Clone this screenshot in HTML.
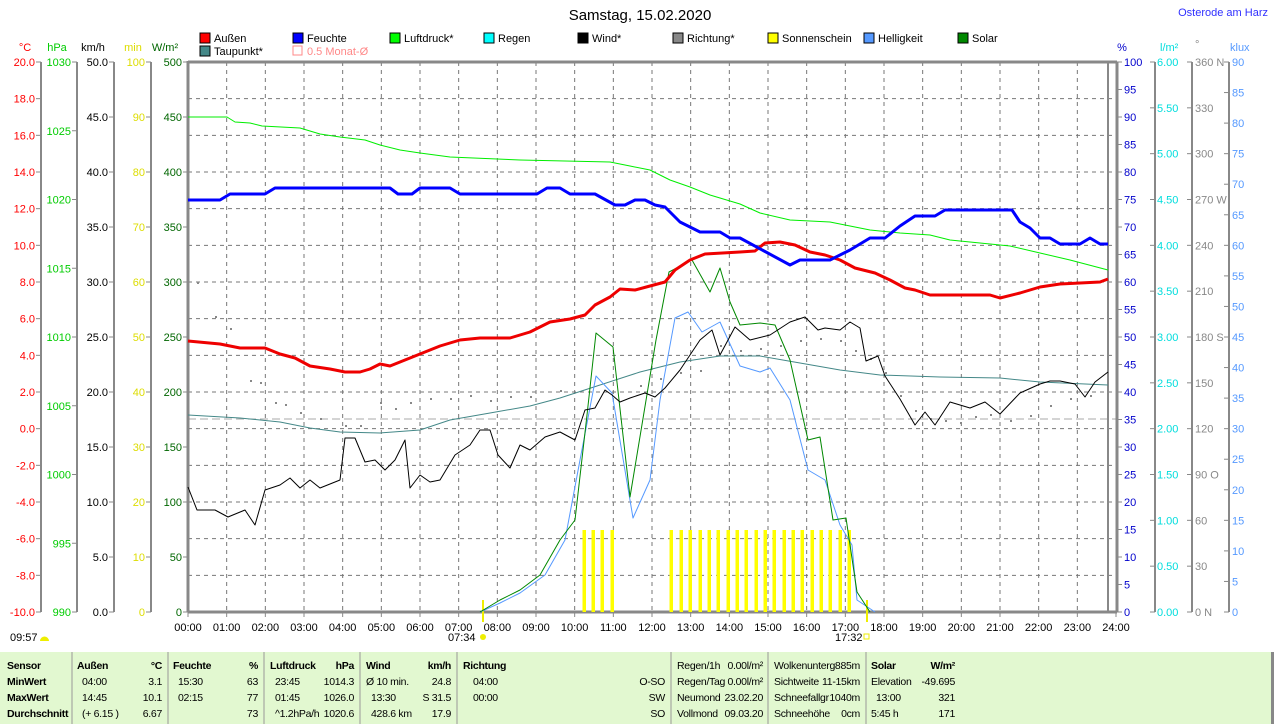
<!DOCTYPE html>
<html><head><meta charset="utf-8"><style>
html,body{margin:0;padding:0;background:#fff;width:1274px;height:724px;overflow:hidden;font-family:"Liberation Sans",sans-serif}
svg text{font-family:"Liberation Sans",sans-serif;font-size:11px}
svg .tb text{font-size:10.5px;letter-spacing:-0.3px}
</style></head><body>
<svg id="s" width="1274" height="724" xmlns="http://www.w3.org/2000/svg">
<rect x="0" y="652" width="1271" height="72" fill="#e2f8d0"/>
<rect x="1271" y="652" width="3" height="72" fill="#888"/>
<text x="640" y="20" font-size="15" text-anchor="middle" style="font-size:15px">Samstag, 15.02.2020</text>
<text x="1268" y="16" text-anchor="end" fill="#3030ff">Osterode am Harz</text>
<g id="g"></g>
<g id="t" class="tb"></g>
</svg>
<script>
var g=document.getElementById('g'),h='';
function T(x,y,t,c,a,w){h+='<text x="'+x+'" y="'+y+'" fill="'+(c||'#000')+'"'+(a?' text-anchor="'+a+'"':'')+(w?' font-weight="bold"':'')+'>'+t+'</text>';}
function L(x1,y1,x2,y2,c,w,d){h+='<line x1="'+x1+'" y1="'+y1+'" x2="'+x2+'" y2="'+y2+'" stroke="'+c+'" stroke-width="'+(w||1)+'"'+(d?' stroke-dasharray="'+d+'"':'')+'/>';}
function P(pts,c,w){h+='<polyline fill="none" stroke="'+c+'" stroke-width="'+(w||1)+'" stroke-linejoin="round" points="'+pts+'"/>';}
var X0=188,X1=1116,Y0=62,Y1=612;
for(var i=1;i<24;i++){var x=X0+i*(X1-X0)/24;L(x,Y0,x,Y1,'#777',1,'4,4');}
for(var i=1;i<15;i++){var y=Y0+i*550/15;L(X0,y,1117,y,'#777',1,'4,4');}
L(X0,419,1117,419,'#aaa',1,'8,4');
var dots=[[197,282],[215,316],[230,328],[250,380],[260,382],[275,402],[285,404],[300,412],[320,418],[345,425],[360,425],[380,402],[395,408],[410,402],[430,398],[450,398],[470,395],[490,400],[510,396],[530,396],[560,390],[640,385],[660,378],[680,372],[700,370],[720,345],[740,350],[760,348],[780,345],[800,340],[820,338],[840,340],[855,350],[870,358],[885,372],[900,395],[915,410],[930,418],[945,420],[960,422],[975,416],[990,414],[1010,420],[1030,415],[1050,405],[1070,398],[1090,395]];
dots.forEach(function(d){h+='<rect x="'+d[0]+'" y="'+d[1]+'" width="2" height="2" fill="#888"/>';});
var ax=[[41,'#f00',20,-10,2,1,'°C',25],[77,'#0c0',1030,990,5,0,'hPa',57],[114,'#000',50,0,5,1,'km/h',93],[151,'#dd0',100,0,10,0,'min',133],[188,'#060',500,0,50,0,'W/m²',165]];
ax.forEach(function(a){var n=(a[2]-a[3])/a[4];if(a[0]<188)L(a[0],Y0,a[0],Y1,'#888',2);
 T(a[7],51,a[6],a[1],'middle');
 for(var k=0;k<=n;k++){var y=Y0+k*550/n,v=a[2]-k*a[4];L(a[0]-5,y,a[0],y,'#888');T(a[0]-6,y+4,a[5]?v.toFixed(1):v,a[1],'end');}});
L(1117,Y0,1117,Y1,'#888',3);L(1108,Y0,1108,Y1,'#888',2);
for(var k=0;k<=20;k++){var y=Y0+k*27.5;L(1117,y,1122,y,'#888');T(1124,y+4,100-5*k,'#00c');}
T(1122,51,'%','#00c','middle');
L(1155,Y0,1155,Y1,'#888',2);T(1160,51,'l/m²','#0dd');
for(var k=0;k<=12;k++){var y=Y0+k*550/12;L(1150,y,1155,y,'#888');T(1157,y+4,(6-k*.5).toFixed(2),'#0dd');}
L(1192,Y0,1192,Y1,'#888',2);T(1195,48,'°','#888');
var dl={0:' N',3:' W',6:' S',9:' O',12:' N'};
for(var k=0;k<=12;k++){var y=Y0+k*550/12;L(1187,y,1192,y,'#888');T(1195,y+4,(360-30*k)+(dl[k]||''),'#888');}
L(1229,Y0,1229,Y1,'#888',2);T(1230,51,'klux','#59f');
for(var k=0;k<=18;k++){var y=Y0+k*550/18;L(1224,y,1229,y,'#888');T(1232,y+4,90-5*k,'#59f');}
L(X0,Y0,1117,Y0,'#888',3);L(X0,Y0-1,X0,Y1,'#888',3);L(X0,Y1,1117,Y1,'#888',3);
for(var i=0;i<=24;i++){var x=X0+i*(X1-X0)/24;L(x,Y1,x,Y1+5,'#888');T(x,631,(i<10?'0':'')+i+':00','#000','middle');}
T(10,641,'09:57');h+='<path d="M40,641 a4,4 0 0 1 9,0z" fill="#ee0"/>';
T(448,641,'07:34');h+='<circle cx="483" cy="637" r="3" fill="#ee0"/>';
T(835,641,'17:32');h+='<rect x="864" y="634" width="5" height="5" fill="none" stroke="#ee0"/>';
var lg=[[200,'#f00','Außen'],[293,'#00f','Feuchte'],[390,'#0f0','Luftdruck*'],[484,'#0ff','Regen'],[578,'#000','Wind*'],[673,'#888','Richtung*'],[768,'#ff0','Sonnenschein'],[864,'#59f','Helligkeit'],[958,'#080','Solar']];
lg.forEach(function(l){h+='<rect x="'+l[0]+'" y="33" width="10" height="10" fill="'+l[1]+'" stroke="#000"/>';T(l[0]+14,42,l[2]);});
h+='<rect x="200" y="46" width="10" height="10" fill="#488" stroke="#000"/>';T(214,55,'Taupunkt*');
h+='<rect x="293" y="46" width="9" height="9" fill="none" stroke="#f88"/>';T(307,55,'0.5 Monat-Ø','#f88');
[584,593,602,612].concat([671,681,690,700,709,718,728,737,746,756,765,774,784,793,802,812,821,830,840,849]).forEach(function(x){h+='<rect x="'+(x-1.5)+'" y="530" width="3.5" height="82" fill="#ff0"/>';});
L(483,600,483,622,'#ee0',2);L(867,600,867,622,'#ee0',2);
P('188,415 240,418 280,422 310,428 340,432 380,433 420,430 450,420 490,413 530,406 560,398 600,385 640,372 680,362 720,356 760,356 800,363 840,370 880,375 940,377 1000,378 1040,382 1108,385','#488');
P('480,612 500,603 520,593 545,575 565,540 580,460 596,376 612,393 633,518 650,480 660,400 675,318 688,312 702,332 720,322 740,366 760,372 770,368 790,400 808,470 825,480 840,525 852,545 857,600 875,612','#59f');
P('480,612 500,600 520,590 540,575 560,540 575,520 587,415 596,333 613,347 630,497 656,340 669,272 692,260 710,292 720,268 730,302 740,325 760,323 775,325 790,360 808,440 820,437 833,520 846,518 857,592 870,612','#080');
P('188,487 197,510 215,510 228,517 245,510 255,525 265,490 280,485 290,478 300,488 310,480 320,488 340,480 345,438 355,438 365,462 375,460 385,470 395,460 405,440 410,488 420,475 430,482 440,480 455,455 470,445 480,430 490,430 498,455 510,468 520,445 530,450 545,437 560,432 575,440 585,410 595,408 605,390 612,395 620,402 630,398 645,393 655,397 665,388 680,370 700,340 712,330 720,355 735,327 750,340 770,335 790,322 805,317 818,330 825,328 840,330 850,322 860,328 866,361 878,356 885,376 900,399 915,425 925,412 935,425 950,402 970,408 985,402 1000,414 1020,393 1040,384 1050,381 1060,381 1075,384 1085,397 1095,382 1108,372','#000');
P('188,117 227,117 235,122 250,123 262,126 300,128 320,134 340,137 365,140 380,145 400,150 420,153 450,157 520,160 610,162 630,166 650,170 670,180 690,187 710,195 740,204 760,213 790,220 830,222 850,226 870,230 900,233 930,235 950,240 980,243 1010,246 1040,253 1070,260 1108,270','#0e0');
P('188,341 220,344 240,348 265,348 280,354 295,358 310,366 330,369 345,372 360,372 370,369 380,364 390,366 400,362 420,354 440,346 460,340 480,338 510,338 530,332 550,322 570,319 585,315 595,305 610,297 620,289 635,290 650,286 665,282 675,270 690,260 705,254 740,252 755,251 765,243 780,242 795,245 810,252 825,255 840,260 855,268 875,273 890,280 905,288 915,290 930,295 990,295 1000,298 1020,293 1040,287 1060,284 1100,282 1108,279','#e00',3);
P('188,200 220,200 230,194 265,194 275,188 390,188 398,194 412,194 420,188 450,188 460,194 537,194 547,188 560,188 570,194 595,194 615,205 625,205 635,200 645,200 655,205 665,207 680,222 700,232 720,232 730,238 740,238 790,265 800,260 830,260 850,250 870,238 885,238 900,226 915,216 935,216 945,210 1012,210 1020,222 1030,228 1040,238 1050,238 1060,244 1080,244 1090,238 1100,244 1108,244','#00f',3);
[72,168,264,360,457,671,768,866].forEach(function(x){L(x,652,x,724,'#999',1);});
g.innerHTML=h;h='';
var R=[665,681,697,713];
['Sensor','MinWert','MaxWert','Durchschnitt'].forEach(function(t,i){T(7,R[i]+4,t,'#000',null,1);});
function col(x,xe,hd,un,l,r){T(x,669,hd,'#000',null,1);T(xe,669,un,'#000','end',1);for(var i=0;i<3;i++){T(x+5,R[i+1]+4,l[i]);T(xe,R[i+1]+4,r[i],'#000','end');}}
col(77,162,'Außen','°C',['04:00','14:45','(+ 6.15 )'],['3.1','10.1','6.67']);
col(173,258,'Feuchte','%',['15:30','02:15',''],['63','77','73']);
col(270,354,'Luftdruck','hPa',['23:45','01:45','^1.2hPa/h'],['1014.3','1026.0','1020.6']);
T(366,669,'Wind','#000',null,1);T(451,669,'km/h','#000','end',1);
T(366,685,'Ø 10 min.');T(371,701,'13:30');T(371,717,'428.6 km');
T(451,685,'24.8','#000','end');T(451,701,'S 31.5','#000','end');T(451,717,'17.9','#000','end');
T(463,669,'Richtung','#000',null,1);T(473,685,'04:00');T(473,701,'00:00');
T(665,685,'O-SO','#000','end');T(665,701,'SW','#000','end');T(665,717,'SO','#000','end');
var r2=[['Regen/1h','0.00l/m²'],['Regen/Tag','0.00l/m²'],['Neumond','23.02.20'],['Vollmond','09.03.20']];
r2.forEach(function(r,i){T(677,R[i]+4,r[0]);T(763,R[i]+4,r[1],'#000','end');});
var r3=[['Wolkenunterg','885m'],['Sichtweite','11-15km'],['Schneefallgr','1040m'],['Schneehöhe','0cm']];
r3.forEach(function(r,i){T(774,R[i]+4,r[0]);T(860,R[i]+4,r[1],'#000','end');});
T(871,669,'Solar','#000',null,1);T(955,669,'W/m²','#000','end',1);
T(871,685,'Elevation');T(876,701,'13:00');T(871,717,'5:45 h');
T(955,685,'-49.695','#000','end');T(955,701,'321','#000','end');T(955,717,'171','#000','end');
document.getElementById('t').innerHTML=h;
</script>
</body></html>
